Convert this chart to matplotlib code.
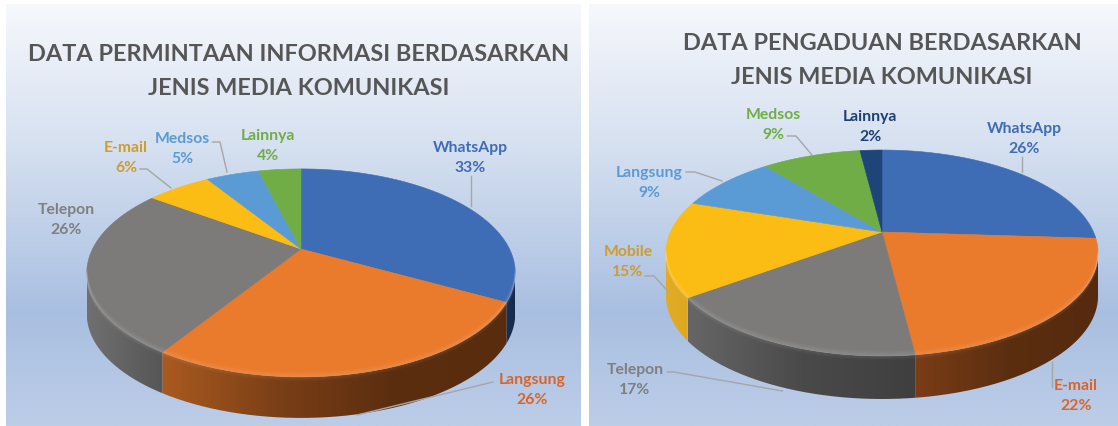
import numpy as np
import matplotlib
matplotlib.use("Agg")
import matplotlib.pyplot as plt
from matplotlib.colors import LinearSegmentedColormap, to_rgb
from matplotlib.patches import PathPatch
from matplotlib.path import Path
from matplotlib.transforms import Affine2D, Transform

plt.rcParams["font.family"] = ["Lato", "DejaVu Sans"]

# ---- data
left_title = ["DATA PERMINTAAN INFORMASI BERDASARKAN", "JENIS MEDIA KOMUNIKASI"]
left_categories = ["WhatsApp", "Langsung", "Telepon", "E-mail", "Medsos", "Lainnya"]
left_values = [33, 26, 26, 6, 5, 4]

right_title = ["DATA PENGADUAN BERDASARKAN", "JENIS MEDIA KOMUNIKASI"]
right_categories = ["WhatsApp", "E-mail", "Telepon", "Mobile", "Langsung", "Medsos", "Lainnya"]
right_values = [26, 22, 17, 15, 9, 9, 2]

# ---- styles and layout
BLUE, ORANGE, GRAY, YELLOW, SKY, GREEN, NAVY = (
    "#3E6DB5", "#EA7A2C", "#7C7B7A", "#FBBC14", "#5B9BD5", "#70AD47", "#1F4478")
left_colors = [BLUE, ORANGE, GRAY, YELLOW, SKY, GREEN]
right_colors = [BLUE, ORANGE, GRAY, YELLOW, SKY, GREEN, NAVY]
left_text_colors = ["#3F6CB5", "#D9652A", "#7F7F7F", "#CF9C2E", "#5B9BD5", "#70AD47"]
right_text_colors = ["#3F6CB5", "#D9652A", "#7F7F7F", "#CF9C2E", "#5B9BD5", "#70AD47", "#1F3F73"]
left_walls = [["#1A3157", "#14294C"], ["#AA5A20", "#7A3F16", "#5C2E10", "#5A2C0E"], ["#707070", "#565656"],
              None, None, None]
right_walls = [None, ["#7A3D16", "#5C2E10", "#552A0E"], ["#666666", "#4A4A4A", "#3F3F3F"], ["#E3AC24", "#DDA722"],
               None, None, None]
left_label_xy = [(470, 148), (532.5, 380), (66, 210), (126, 148), (182.5, 139), (267.5, 136)]
right_label_xy = [(1024.5, 129), (1076, 386), (635, 370), (628, 252), (649, 173), (773.5, 115), (870, 117)]
left_leaders = [[(470.5, 177), (470.5, 207)], [(493, 383), (357, 416)],
                [(140, 170), (147, 170), (171, 189)], [(212.5, 143), (220, 143), (227, 173)]]
right_leaders = [[(1022, 158), (1022, 173)], [(1052, 363), (1052, 388)],
                 [(667.5, 373), (674, 373), (782.5, 392)], [(645, 277), (654, 277), (668.5, 293)],
                 [(686, 173), (695, 173), (722, 182)], [(787.5, 137), (796, 137), (812, 156)]]
BG_STOPS = [(0.0, "#F6F8FC"), (0.34, "#D5E0F0"), (0.73, "#A9BFE1"), (1.0, "#BCCDE8")]
W, H = 1118, 427


class DiskProjection(Transform):
    """Perspective view of the unit disk: far side smaller, hub above ellipse centre."""
    input_dims = output_dims = 2
    is_separable = False
    has_inverse = False

    def __init__(self, cx, cy, rx, ry, k):
        super().__init__()
        self.cx, self.cy, self.rx, self.ry, self.k = cx, cy, rx, ry, k

    def transform_non_affine(self, values):
        xy = np.asarray(values, float)
        w = 1 + self.k * xy[:, 1]
        return np.column_stack([self.cx + self.rx * xy[:, 0] / w, self.cy - self.ry * xy[:, 1] / w])

    def transform_path_non_affine(self, path):
        flat = path.transformed(Affine2D().scale(500)).to_polygons(closed_only=False)
        return Path(self.transform_non_affine(np.vstack(flat) / 500))


def rim(proj, thetas):
    t = np.radians(thetas)
    return proj.transform_non_affine(np.column_stack([np.sin(t), np.cos(t)]))


def draw_panel(box, geom, depth, title, title_xy, cats, vals, colors, walls,
               text_colors, label_xy, leaders, title_size, label_size):
    x0, x1, y0, y1 = box
    ax = fig.add_axes([x0 / W, 1 - y1 / H, (x1 - x0) / W, (y1 - y0) / H])
    proj = DiskProjection(*geom)

    wedges, _ = ax.pie(vals, colors=colors, startangle=90, counterclock=False,
                       wedgeprops=dict(linewidth=0.4))
    for i, w in enumerate(wedges):
        w.set_edgecolor(colors[i])
        w.set_transform(proj + ax.transData)
        w.set_zorder(4)
    ax.set_aspect("auto")
    ax.set_xlim(x0, x1)
    ax.set_ylim(y1, y0)
    ax.set_axis_off()

    # background
    ys = np.linspace(0, 1, 256)
    stops = np.array([to_rgb(c) for _, c in BG_STOPS])
    pos = [p for p, _ in BG_STOPS]
    grad = np.column_stack([np.interp(ys, pos, stops[:, j]) for j in range(3)])[:, None, :]
    ax.imshow(grad, extent=(x0, x1, y1, y0), aspect="auto", zorder=0, interpolation="bilinear")

    # side walls from the same slice angles
    k = geom[4]
    lim = np.degrees(np.arccos(-k))
    edges = 360 * np.concatenate([[0], np.cumsum(vals)]) / np.sum(vals)
    for i, stops_i in enumerate(walls):
        if stops_i is None:
            continue
        a, b = max(edges[i], lim), min(edges[i + 1], 360 - lim)
        if b <= a:
            continue
        top = rim(proj, np.linspace(a, b, 90))
        bottom = top + [0, depth]
        poly = np.vstack([top, bottom[::-1]])
        patch = PathPatch(Path(np.vstack([poly, poly[0]])), facecolor="none", edgecolor="none",
                          transform=ax.transData)
        ax.add_patch(patch)
        cmap = LinearSegmentedColormap.from_list("w", stops_i)
        im = ax.imshow(np.linspace(0, 1, 128)[None, :], cmap=cmap, aspect="auto", zorder=2,
                       extent=(top[:, 0].min(), top[:, 0].max(), bottom[:, 1].max(), top[:, 1].min()),
                       interpolation="bilinear")
        im.set_clip_path(patch)
        # soft bevel where surface meets wall
        for off in range(9):
            ax.plot(top[:, 0], top[:, 1] + off - 4.5, color="white", lw=1.2,
                    alpha=0.07 * (1 - abs(off - 4) / 5), zorder=5, solid_capstyle="butt")
    ax.set_xlim(x0, x1)
    ax.set_ylim(y1, y0)

    # titles
    for line, (tx, ty) in zip(title, title_xy):
        ax.text(tx, ty, line, ha="center", va="center", fontsize=title_size, fontweight="bold",
                color="#565656", zorder=6)
    # labels
    for cat, val, col, (lx, ly) in zip(cats, vals, text_colors, label_xy):
        ax.text(lx, ly, cat, ha="center", va="center", fontsize=label_size, fontweight="bold",
                color=col, zorder=6)
        ax.text(lx, ly + 20.5, f"{val}%", ha="center", va="center", fontsize=label_size,
                fontweight="bold", color=col, zorder=6)
    for pts in leaders:
        p = np.array(pts)
        ax.plot(p[:, 0], p[:, 1], color="#A6A6A6", lw=1.0, zorder=6)
    return ax


fig = plt.figure(figsize=(W / 100, H / 100), dpi=100, facecolor="white")

draw_panel((6, 581, 5, 427), (301, 250, 208.5, 98.5, 0.23), 41, left_title,
           [(299, 55), (299, 89)], left_categories, left_values, left_colors, left_walls,
           left_text_colors, left_label_xy, left_leaders, 16.9, 11.3)
draw_panel((589, 1118, 5, 427), (882, 233, 211.5, 98.7, 0.204), 43, right_title,
           [(882, 44), (882, 78)], right_categories, right_values, right_colors, right_walls,
           right_text_colors, right_label_xy, right_leaders, 16.9, 11.3)

fig.savefig("out.png", dpi=100, facecolor="white")
